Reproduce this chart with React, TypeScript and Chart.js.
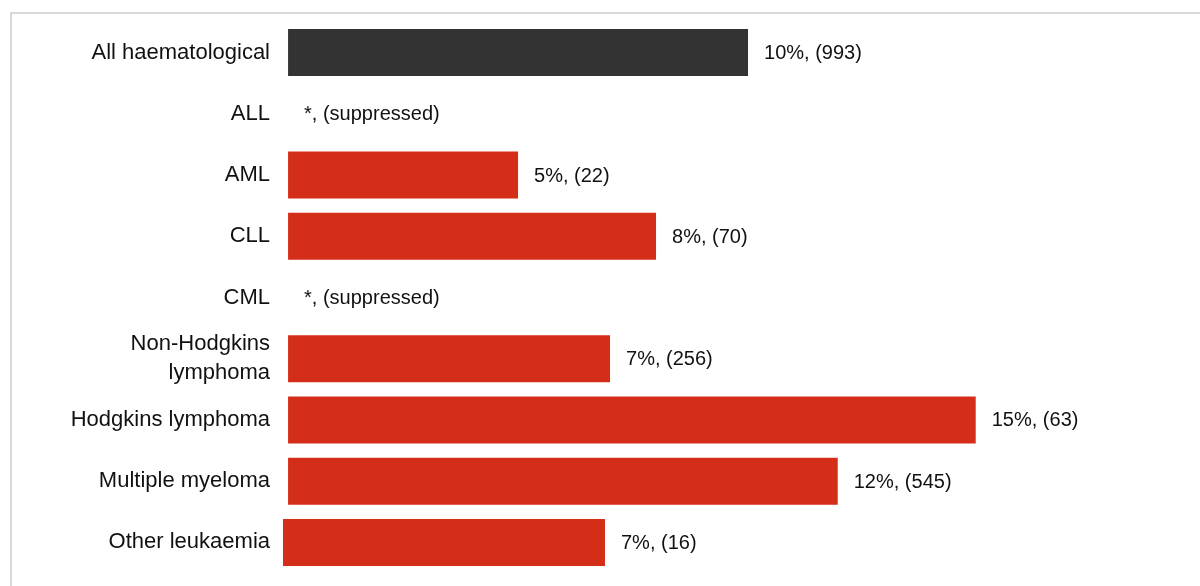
import React, { useEffect, useRef } from "react";
import { Chart, registerables } from "chart.js";

Chart.register(...registerables);

const categories: (string | string[])[] = [
  "All haematological",
  "ALL",
  "AML",
  "CLL",
  "CML",
  ["Non-Hodgkins", "lymphoma"],
  "Hodgkins lymphoma",
  "Multiple myeloma",
  "Other leukaemia",
];
const barStarts: number[] = [0, 0, 0, 0, 0, 0, 0, 0, -0.11];
const barValues: (number | null)[] = [10, null, 5, 8, null, 7, 14.95, 11.95, 6.89];
const pctLabels: string[] = ["10%", "*", "5%", "8%", "*", "7%", "15%", "12%", "7%"];
const countLabels: string[] = [
  "(993)",
  "(suppressed)",
  "(22)",
  "(70)",
  "(suppressed)",
  "(256)",
  "(63)",
  "(545)",
  "(16)",
];
const barColors: string[] = [
  "#333333",
  "#D52E18",
  "#D52E18",
  "#D52E18",
  "#D52E18",
  "#D52E18",
  "#D52E18",
  "#D52E18",
  "#D52E18",
];

const FONT = "'Liberation Sans', Arial, Helvetica, sans-serif";

const valueLabelPlugin = {
  id: "valueLabels",
  afterDatasetsDraw(chart: any) {
    const ctx = chart.ctx;
    const xScale = chart.scales.x;
    ctx.save();
    ctx.font = `20px ${FONT}`;
    ctx.fillStyle = "#111111";
    ctx.textAlign = "left";
    ctx.textBaseline = "middle";
    barValues.forEach((v, i) => {
      const endX = v == null ? xScale.getPixelForValue(0) : xScale.getPixelForValue(v);
      const y = chart.scales.y.getPixelForValue(i);
      ctx.fillText(`${pctLabels[i]}, ${countLabels[i]}`, endX + 16, y + 1);
    });
    ctx.restore();
  },
};

export default function App() {
  const canvasRef = useRef<HTMLCanvasElement | null>(null);

  useEffect(() => {
    if (!canvasRef.current) return;
    const data = barValues.map((v, i) => (v == null ? null : [barStarts[i], v]));
    const chart = new Chart(canvasRef.current, {
      type: "bar",
      data: {
        labels: categories as any,
        datasets: [
          {
            data: data as any,
            backgroundColor: barColors,
            borderWidth: 0,
            categoryPercentage: 1,
            barPercentage: 0.768,
          },
        ],
      },
      plugins: [valueLabelPlugin],
      options: {
        indexAxis: "y",
        animation: false,
        responsive: false,
        maintainAspectRatio: false,
        layout: { padding: { top: 22, bottom: 13, left: 0, right: 38 } },
        plugins: {
          legend: { display: false },
          tooltip: { enabled: false },
          title: { display: false },
        },
        scales: {
          x: {
            display: false,
            min: -0.11,
            max: 19,
          },
          y: {
            grid: { display: false, drawTicks: false },
            border: { display: false },
            afterFit(scale: any) {
              scale.width = 283;
              scale.paddingTop = 0;
              scale.paddingBottom = 0;
            },
            ticks: {
              padding: 13,
              color: "#111111",
              font: { family: FONT, size: 22, lineHeight: 1.32 },
            },
          },
        },
      },
    });
    return () => chart.destroy();
  }, []);

  return (
    <div
      style={{
        position: "fixed",
        left: 0,
        top: 0,
        width: 1200,
        height: 586,
        background: "#ffffff",
        overflow: "hidden",
      }}
    >
      <div
        style={{
          position: "absolute",
          left: 10,
          top: 12,
          width: 1190,
          height: 574,
          borderLeft: "2px solid #d9d9d9",
          borderTop: "2px solid #d9d9d9",
          boxSizing: "border-box",
        }}
      />
      <canvas
        ref={canvasRef}
        width={1200}
        height={586}
        style={{ position: "absolute", left: 0, top: 0, width: 1200, height: 586 }}
      />
    </div>
  );
}
